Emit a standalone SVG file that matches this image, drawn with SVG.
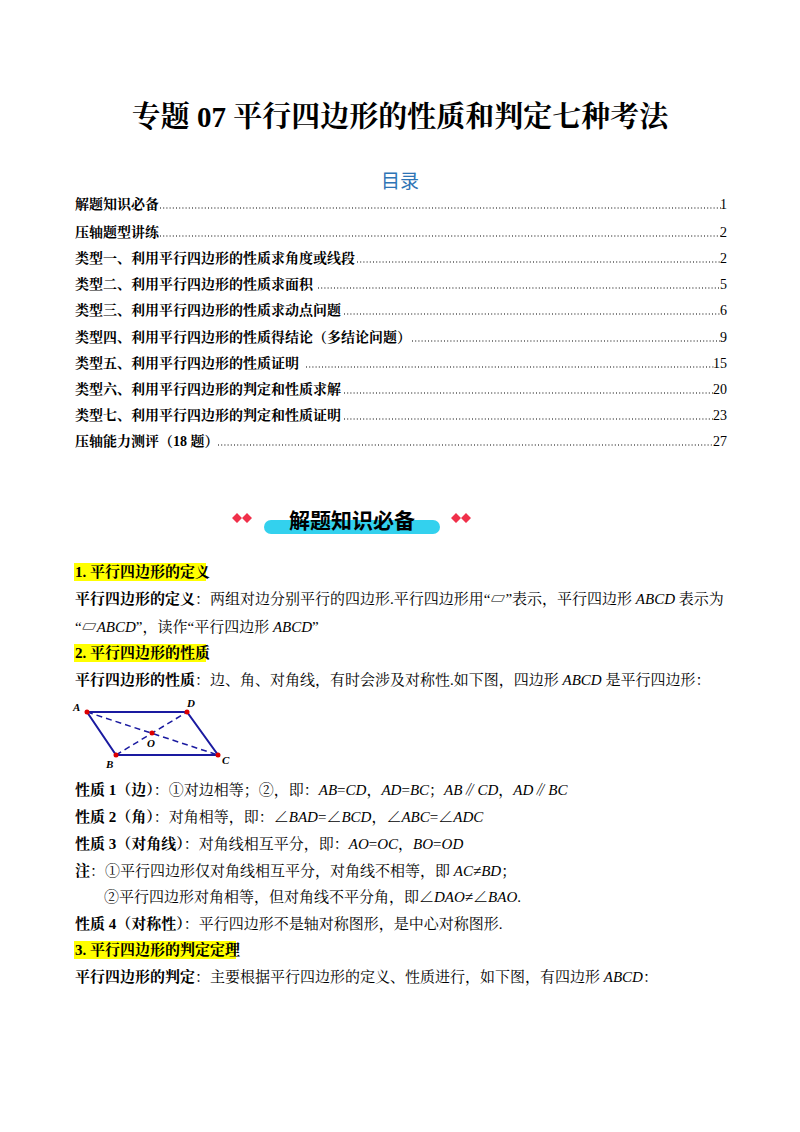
<svg xmlns="http://www.w3.org/2000/svg" width="800" height="1132" viewBox="0 0 800 1132">
<style>
text{font-family:"Liberation Serif","Noto Serif CJK SC","Noto Sans CJK SC",serif;font-size:15px;fill:#000}
.b{font-weight:bold}
.toc{font-size:14px}
.hl{fill:#ffff00}
.dot{fill:#d00}
.pg{stroke:#1a1aa0;stroke-width:2;fill:none}
.dash{stroke:#1a1aa0;stroke-width:1.5;stroke-dasharray:6,4;fill:none}
.lbl{font-style:italic;font-weight:bold;font-size:11px}
.ld{stroke:#000;stroke-width:1.2;stroke-dasharray:1,2.2}
</style>
<rect width="800" height="1132" fill="#fff"/>
<g id="title"><text x="400" y="127" text-anchor="middle" class="b" style="font-size:29px">专题 07  平行四边形的性质和判定七种考法</text></g>
<g id="toc">
<text x="400" y="188" text-anchor="middle" style="font-size:19px;fill:#2e74b5;font-family:'Noto Sans CJK SC',sans-serif">目录</text>
<text x="75" y="209" class="b toc">解题知识必备</text><line class="ld" x1="160" y1="208" x2="721" y2="208"/><text x="727" y="209" text-anchor="end" class="toc">1</text>
<text x="75" y="237" class="b toc">压轴题型讲练</text><line class="ld" x1="160" y1="236" x2="721" y2="236"/><text x="727" y="237" text-anchor="end" class="toc">2</text>
<text x="75" y="263" class="b toc">类型一、利用平行四边形的性质求角度或线段</text><line class="ld" x1="357" y1="262" x2="721" y2="262"/><text x="727" y="263" text-anchor="end" class="toc">2</text>
<text x="75" y="289" class="b toc">类型二、利用平行四边形的性质求面积</text><line class="ld" x1="318" y1="288" x2="721" y2="288"/><text x="727" y="289" text-anchor="end" class="toc">5</text>
<text x="75" y="315" class="b toc">类型三、利用平行四边形的性质求动点问题</text><line class="ld" x1="344" y1="314" x2="721" y2="314"/><text x="727" y="315" text-anchor="end" class="toc">6</text>
<text x="75" y="342" class="b toc">类型四、利用平行四边形的性质得结论（多结论问题）</text><line class="ld" x1="412" y1="341" x2="721" y2="341"/><text x="727" y="342" text-anchor="end" class="toc">9</text>
<text x="75" y="368" class="b toc">类型五、利用平行四边形的性质证明</text><line class="ld" x1="306" y1="367" x2="714" y2="367"/><text x="727" y="368" text-anchor="end" class="toc">15</text>
<text x="75" y="394" class="b toc">类型六、利用平行四边形的判定和性质求解</text><line class="ld" x1="344" y1="393" x2="714" y2="393"/><text x="727" y="394" text-anchor="end" class="toc">20</text>
<text x="75" y="420" class="b toc">类型七、利用平行四边形的判定和性质证明</text><line class="ld" x1="344" y1="419" x2="714" y2="419"/><text x="727" y="420" text-anchor="end" class="toc">23</text>
<text x="75" y="446" class="b toc">压轴能力测评（18 题）</text><line class="ld" x1="218" y1="445" x2="714" y2="445"/><text x="727" y="446" text-anchor="end" class="toc">27</text>
</g>
<g id="banner">
<rect x="264" y="520" width="176" height="14" rx="7" fill="#33d1ee"/>
<text x="352" y="528" text-anchor="middle" class="b" style="font-size:21px;font-family:'Noto Sans CJK SC',sans-serif">解题知识必备</text>
<path d="M237 513 l5 5 -5 5 -5 -5z M247 513 l5 5 -5 5 -5 -5z M456 513 l5 5 -5 5 -5 -5z M466 513 l5 5 -5 5 -5 -5z" fill="#f0304a"/>
</g>
<g id="s1">
<rect x="74" y="563" width="132" height="18" class="hl"/>
<text x="75" y="577" class="b">1. 平行四边形的定义</text>
<text x="75" y="604"><tspan class="b">平行四边形的定义</tspan>：两组对边分别平行的四边形.平行四边形用“▱”表示，平行四边形 <tspan font-style="italic">ABCD</tspan> 表示为</text>
<text x="75" y="632">“▱<tspan font-style="italic">ABCD</tspan>”，读作“平行四边形 <tspan font-style="italic">ABCD</tspan>”</text>
<rect x="74" y="644" width="132" height="18" class="hl"/>
<text x="75" y="658" class="b">2. 平行四边形的性质</text>
<text x="75" y="685"><tspan class="b">平行四边形的性质</tspan>：边、角、对角线，有时会涉及对称性.如下图，四边形 <tspan font-style="italic">ABCD</tspan> 是平行四边形：</text>
</g>
<g id="figure1">
<path class="pg" d="M87 712 L187 712 L218 755 L116 755 Z"/>
<path class="dash" d="M87 712 L218 755 M116 755 L187 712"/>
<circle class="dot" cx="87" cy="712" r="2.5"/><circle class="dot" cx="187" cy="712" r="2.5"/><circle class="dot" cx="218" cy="755" r="2.5"/><circle class="dot" cx="116" cy="755" r="2.5"/><circle class="dot" cx="152" cy="733" r="2.5"/>
<text class="lbl" x="73" y="711">A</text><text class="lbl" x="187" y="707">D</text><text class="lbl" x="222" y="764">C</text><text class="lbl" x="106" y="768">B</text><text class="lbl" x="147" y="747">O</text>
</g>
<g id="s2">
<text x="75" y="795"><tspan class="b">性质 1（边）</tspan>：①对边相等；②，即：<tspan font-style="italic">AB</tspan>=<tspan font-style="italic">CD</tspan>，<tspan font-style="italic">AD</tspan>=<tspan font-style="italic">BC</tspan>；<tspan font-style="italic">AB</tspan>∥<tspan font-style="italic">CD</tspan>，<tspan font-style="italic">AD</tspan>∥<tspan font-style="italic">BC</tspan></text>
<text x="75" y="822"><tspan class="b">性质 2（角）</tspan>：对角相等，即：∠<tspan font-style="italic">BAD</tspan>=∠<tspan font-style="italic">BCD</tspan>，∠<tspan font-style="italic">ABC</tspan>=∠<tspan font-style="italic">ADC</tspan></text>
<text x="75" y="849"><tspan class="b">性质 3（对角线）</tspan>：对角线相互平分，即：<tspan font-style="italic">AO</tspan>=<tspan font-style="italic">OC</tspan>，<tspan font-style="italic">BO</tspan>=<tspan font-style="italic">OD</tspan></text>
<text x="75" y="876"><tspan class="b">注</tspan>：①平行四边形仅对角线相互平分，对角线不相等，即 <tspan font-style="italic">AC</tspan>≠<tspan font-style="italic">BD</tspan>；</text>
<text x="104" y="902">②平行四边形对角相等，但对角线不平分角，即∠<tspan font-style="italic">DAO</tspan>≠∠<tspan font-style="italic">BAO</tspan>.</text>
<text x="75" y="929"><tspan class="b">性质 4（对称性）</tspan>：平行四边形不是轴对称图形，是中心对称图形.</text>
<rect x="74" y="941" width="162" height="18" class="hl"/>
<text x="75" y="955" class="b">3. 平行四边形的判定定理</text>
<text x="75" y="982"><tspan class="b">平行四边形的判定</tspan>：主要根据平行四边形的定义、性质进行，如下图，有四边形 <tspan font-style="italic">ABCD</tspan>：</text>
</g>
</svg>
